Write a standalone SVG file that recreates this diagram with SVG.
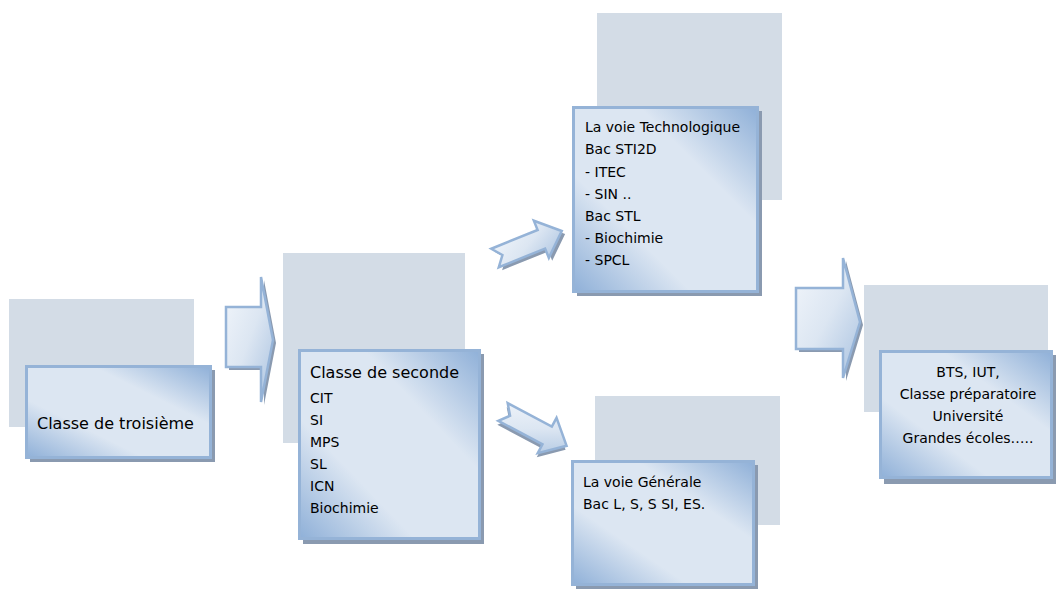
<svg xmlns="http://www.w3.org/2000/svg" xmlns:xlink="http://www.w3.org/1999/xlink" width="1057" height="589" viewBox="0 0 1057 589">
<defs>
<linearGradient id="boxg" x1="1" y1="0" x2="0" y2="1">
<stop offset="0" stop-color="#8fb0d8"/>
<stop offset="0.32" stop-color="#dce6f2"/>
<stop offset="0.68" stop-color="#dce6f2"/>
<stop offset="1" stop-color="#8fb0d8"/>
</linearGradient>
<linearGradient id="arrg" x1="0" y1="0" x2="1" y2="1">
<stop offset="0" stop-color="#f2f6fb"/>
<stop offset="0.5" stop-color="#dce6f2"/>
<stop offset="1" stop-color="#a9c2e0"/>
</linearGradient>
<polygon id="diag" points="0,-10 50,-10 50,-20 72,0 50,20 50,10 0,10 8,0"/>
</defs>
<style>
.bg{fill:#d3dce6}
.sh{fill:#8a9ab0}
.box{fill:url(#boxg);stroke:#95b3d7;stroke-width:3}
.arr{fill:url(#arrg);stroke:#95b3d7;stroke-width:2.5;stroke-linejoin:miter}
.ash{fill:#8a9ab0;stroke:none}
text{font-family:"DejaVu Sans",Verdana,sans-serif;fill:#000}
.big{font-size:16px}
.t{font-size:14px}
.c{text-anchor:middle}
</style>
<rect width="1057" height="589" fill="#ffffff"/>

<g id="connectors">
<g id="arrow1">
<polygon class="ash" transform="translate(3,3)" points="226,307 261,307 261,277 273,340 261,402 261,367 226,367"/>
<polygon class="arr" points="226,307 261,307 261,277 273,340 261,402 261,367 226,367"/>
</g>
<g id="arrow2" transform="translate(495,258) rotate(-22)">
<use xlink:href="#diag" href="#diag" class="ash" transform="translate(2,4)"/>
<use xlink:href="#diag" href="#diag" class="arr"/>
</g>
<g id="arrow3" transform="translate(503,412) rotate(28)">
<use xlink:href="#diag" href="#diag" class="ash" transform="translate(1,4)"/>
<use xlink:href="#diag" href="#diag" class="arr"/>
</g>
<g id="arrow4">
<polygon class="ash" transform="translate(3,3)" points="796,288 843,288 843,258 860,322 843,378 843,349 796,349"/>
<polygon class="arr" points="796,288 843,288 843,258 860,322 843,378 843,349 796,349"/>
</g>
</g>

<g id="node-troisieme">
<rect class="bg" x="9" y="299" width="185" height="128"/>
<rect class="sh" x="30" y="370" width="185" height="92"/>
<rect class="box" x="26.5" y="366.5" width="184" height="91"/>
<text class="big" x="37" y="429">Classe de troisième</text>
</g>

<g id="node-seconde">
<rect class="bg" x="283" y="253" width="182" height="190"/>
<rect class="sh" x="303" y="354" width="181" height="190"/>
<rect class="box" x="299.5" y="350.5" width="180" height="188"/>
<text class="big" x="310" y="378">Classe de seconde</text>
<text class="t" x="310" y="403">CIT</text>
<text class="t" x="310" y="425">SI</text>
<text class="t" x="310" y="447">MPS</text>
<text class="t" x="310" y="469">SL</text>
<text class="t" x="310" y="491">ICN</text>
<text class="t" x="310" y="513">Biochimie</text>
</g>

<g id="node-technologique">
<rect class="bg" x="597" y="13" width="185" height="187"/>
<rect class="sh" x="577" y="111" width="185" height="185"/>
<rect class="box" x="573.5" y="107.5" width="184" height="184"/>
<text class="t" x="585" y="132">La voie Technologique</text>
<text class="t" x="585" y="154">Bac STI2D</text>
<text class="t" x="585" y="177">- ITEC</text>
<text class="t" x="585" y="199">- SIN ..</text>
<text class="t" x="585" y="221">Bac STL</text>
<text class="t" x="585" y="243">- Biochimie</text>
<text class="t" x="585" y="265">- SPCL</text>
</g>

<g id="node-generale">
<rect class="bg" x="595" y="396" width="185" height="129"/>
<rect class="sh" x="576" y="465" width="182" height="124"/>
<rect class="box" x="572.5" y="461.5" width="181" height="123"/>
<text class="t" x="583" y="487">La voie Générale</text>
<text class="t" x="583" y="509">Bac L, S, S SI, ES.</text>
</g>

<g id="node-superieur">
<rect class="bg" x="864" y="285" width="184" height="127"/>
<rect class="sh" x="884" y="355" width="172" height="129"/>
<rect class="box" x="880.5" y="351.5" width="171" height="126"/>
<text class="t c" x="968" y="377">BTS, IUT,</text>
<text class="t c" x="968" y="399">Classe préparatoire</text>
<text class="t c" x="968" y="421">Université</text>
<text class="t c" x="968" y="443">Grandes écoles…..</text>
</g>
</svg>
